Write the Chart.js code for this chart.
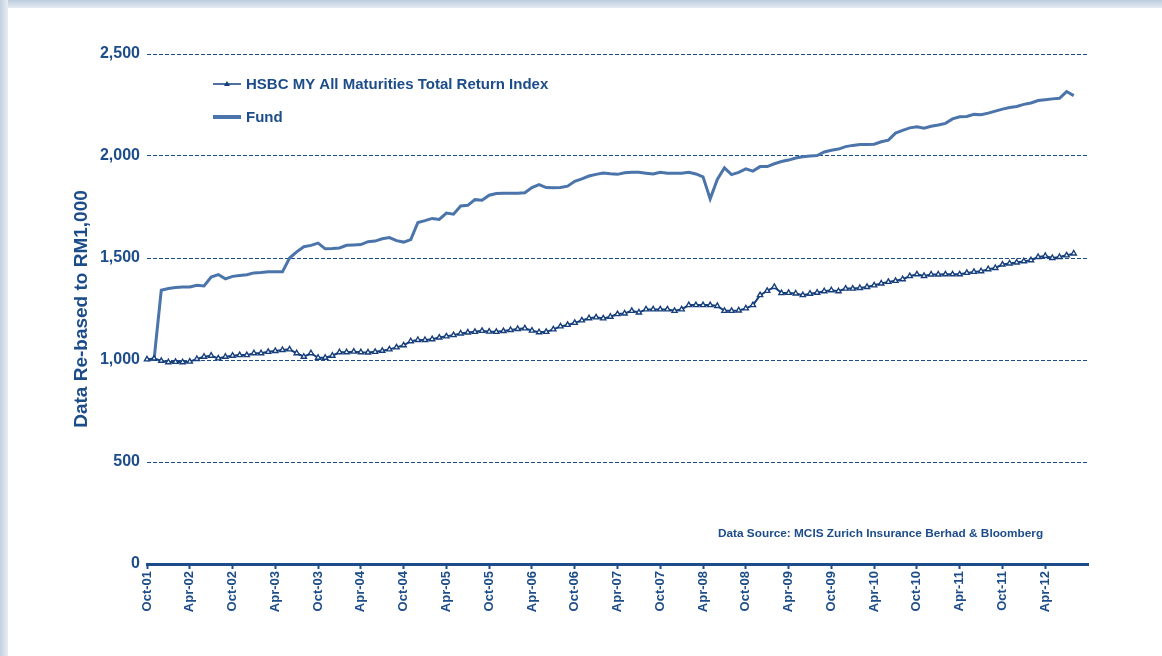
<!DOCTYPE html>
<html>
<head>
<meta charset="utf-8">
<script src="https://cdn.jsdelivr.net/npm/chart.js@4.4.1/dist/chart.umd.min.js"></script>
<style>
  html, body { margin: 0; padding: 0; background: #fff; }
  .wrap { position: relative; width: 1162px; height: 656px; overflow: hidden; background: #fff; }
  .frame-top { position: absolute; left: 0; top: 0; width: 1162px; height: 8px; background: linear-gradient(to bottom, #bccbdc, #e4ebf3); }
  .frame-left { position: absolute; left: 0; top: 0; width: 8px; height: 656px; background: linear-gradient(to right, #c2d0df, #e8eef5); }
  canvas { position: absolute; left: 0; top: 0; }
</style>
</head>
<body>
<div class="wrap">
  <canvas id="perfChart" width="1162" height="656"></canvas>
  <div class="frame-top"></div>
  <div class="frame-left"></div>
</div>
<script>
// monthly categories, Oct-01 onwards
const monthNames = ['Jan','Feb','Mar','Apr','May','Jun','Jul','Aug','Sep','Oct','Nov','Dec'];
const tickLabels = ['Oct-01','Apr-02','Oct-02','Apr-03','Oct-03','Apr-04','Oct-04','Apr-05','Oct-05','Apr-06',
  'Oct-06','Apr-07','Oct-07','Apr-08','Oct-08','Apr-09','Oct-09','Apr-10','Oct-10','Apr-11','Oct-11','Apr-12'];
const yTicks = [0, 500, 1000, 1500, 2000, 2500];

const indexValues = [
  1003,1007,996,989,991,989,992,1005,1016,1021,1008,1016,1021,1024,1024,1033,1033,1040,1044,1049,
  1052,1033,1016,1033,1011,1011,1021,1038,1038,1041,1038,1037,1040,1045,1052,1062,1072,1092,1098,1098,
  1102,1110,1116,1122,1130,1135,1138,1143,1139,1138,1142,1147,1152,1155,1144,1136,1138,1150,1165,1172,
  1182,1194,1205,1209,1204,1212,1225,1228,1241,1233,1248,1248,1248,1248,1241,1248,1269,1269,1269,1269,
  1265,1241,1241,1243,1253,1269,1318,1339,1358,1328,1329,1326,1318,1325,1330,1337,1342,1337,1350,1350,
  1353,1358,1366,1375,1383,1388,1396,1411,1420,1412,1419,1419,1420,1420,1420,1427,1432,1435,1445,1451,
  1468,1473,1478,1484,1489,1505,1510,1500,1505,1513,1522
];

const fundValues = [
  1000,1005,1342,1350,1355,1358,1358,1366,1363,1407,1419,1398,1410,1414,1418,1427,1429,1432,1432,1432,
  1500,1530,1555,1562,1573,1545,1546,1549,1562,1564,1566,1580,1583,1594,1600,1585,1578,1590,1674,1683,
  1694,1689,1720,1715,1755,1758,1786,1783,1808,1816,1818,1818,1818,1820,1845,1860,1845,1844,1846,1852,
  1876,1888,1902,1910,1917,1913,1910,1918,1920,1920,1916,1912,1920,1915,1915,1915,1920,1912,1898,1790,
  1885,1942,1909,1920,1937,1926,1948,1948,1962,1973,1980,1990,1996,2000,2002,2020,2028,2034,2046,2052,
  2056,2056,2058,2070,2078,2112,2126,2138,2143,2136,2146,2152,2160,2182,2192,2194,2204,2202,2210,2220,
  2230,2238,2243,2253,2260,2272,2276,2280,2283,2316,2296
];

const seriesNames = ['HSBC MY All Maturities Total Return Index', 'Fund'];
const sourceNote = 'Data Source: MCIS Zurich Insurance Berhad & Bloomberg';

const navy = '#1c4c8a';
const indexNavy = '#163f7c';
const fundBlue = '#4a74aa';
const font = '"Liberation Sans", Arial, sans-serif';

function buildMonths(count){
  const labels = [];
  for(let i = 0; i < count; i++){
    const m = (9 + i) % 12;
    const y = 2001 + Math.floor((9 + i) / 12);
    labels.push(monthNames[m] + '-' + String(y % 100).padStart(2, '0'));
  }
  return labels;
}

const categories = buildMonths(133);

// legend + source note drawn in the chart area
const notesPlugin = {
  id: 'notes',
  afterDraw(chart){
    const {ctx, chartArea} = chart;
    const x0 = chartArea.left + 66;
    const x1 = chartArea.left + 94;
    const rows = [chartArea.top + 30, chartArea.top + 63];

    ctx.save();
    ctx.lineCap = 'butt';

    // index sample
    ctx.strokeStyle = indexNavy;
    ctx.lineWidth = 1.5;
    ctx.beginPath();
    ctx.moveTo(x0, rows[0]);
    ctx.lineTo(x1, rows[0]);
    ctx.stroke();
    const mx = (x0 + x1) / 2;
    ctx.fillStyle = indexNavy;
    ctx.beginPath();
    ctx.moveTo(mx, rows[0] - 3);
    ctx.lineTo(mx + 3, rows[0] + 2);
    ctx.lineTo(mx - 3, rows[0] + 2);
    ctx.closePath();
    ctx.fill();

    // fund sample
    ctx.strokeStyle = fundBlue;
    ctx.lineWidth = 4;
    ctx.beginPath();
    ctx.moveTo(x0, rows[1]);
    ctx.lineTo(x1, rows[1]);
    ctx.stroke();

    ctx.fillStyle = navy;
    ctx.font = 'bold 15px ' + font;
    ctx.textBaseline = 'middle';
    ctx.textAlign = 'left';
    ctx.fillText(seriesNames[0], x1 + 5, rows[0] + 1);
    ctx.fillText(seriesNames[1], x1 + 5, rows[1] + 1);

    ctx.font = 'bold 11.8px ' + font;
    ctx.fillText(sourceNote, chartArea.left + 571, chartArea.top + 480);
    ctx.restore();
  }
};

function renderChart(){
  const canvas = document.getElementById('perfChart');

  new Chart(canvas, {
    type: 'line',
    data: {
      labels: categories,
      datasets: [
        {
          label: seriesNames[1],
          data: fundValues,
          borderColor: fundBlue,
          borderWidth: 3,
          pointRadius: 0,
          tension: 0,
          order: 2
        },
        {
          label: seriesNames[0],
          data: indexValues,
          borderColor: indexNavy,
          borderWidth: 2,
          pointStyle: 'triangle',
          pointRadius: 3,
          pointBorderWidth: 1.4,
          pointBorderColor: indexNavy,
          pointBackgroundColor: '#ffffff',
          tension: 0,
          order: 1
        }
      ]
    },
    options: {
      responsive: false,
      animation: false,
      devicePixelRatio: 1,
      layout: {
        padding: {left: 70, top: 54, right: 74, bottom: 0}
      },
      plugins: {
        legend: {display: false},
        tooltip: {enabled: false}
      },
      scales: {
        x: {
          afterFit(scale){ scale.height = 92; },
          ticks: {
            autoSkip: false,
            maxRotation: 90,
            minRotation: 90,
            padding: 2,
            color: navy,
            font: {family: font, size: 13, weight: 'bold'},
            callback(value, index){
              const label = this.getLabelForValue(value);
              return tickLabels.includes(label) ? label : '';
            }
          },
          grid: {
            drawOnChartArea: false,
            drawTicks: true,
            tickLength: 5,
            tickWidth: 2,
            tickColor(ctx){
              const label = categories[ctx.index];
              return tickLabels.includes(label) ? navy : 'rgba(0,0,0,0)';
            }
          },
          border: {display: true, color: navy, width: 3}
        },
        y: {
          min: yTicks[0],
          max: yTicks[yTicks.length - 1],
          afterFit(scale){ scale.width = 77; },
          afterBuildTicks(scale){
            scale.ticks = yTicks.map(v => ({value: v}));
          },
          ticks: {
            padding: 7,
            color: navy,
            font: {family: font, size: 16, weight: 'bold'},
            callback(value){
              return value.toLocaleString('en-US');
            }
          },
          grid: {
            drawTicks: false,
            lineWidth: 1,
            color(ctx){
              return ctx.tick && ctx.tick.value === 0 ? 'rgba(0,0,0,0)' : navy;
            }
          },
          border: {display: false, dash: [4, 2]},
          title: {
            display: true,
            text: 'Data Re-based to RM1,000',
            color: navy,
            padding: 0,
            font: {family: font, size: 19, weight: 'bold'}
          }
        }
      }
    },
    plugins: [notesPlugin]
  });
}

renderChart();
</script>
</body>
</html>
